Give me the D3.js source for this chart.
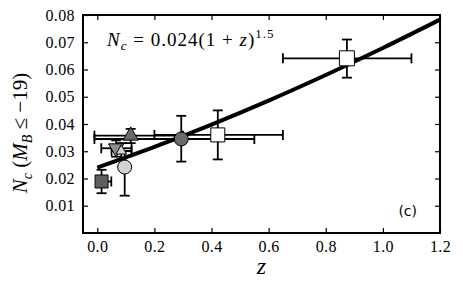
<!DOCTYPE html>
<html>
<head>
<meta charset="utf-8">
<script src="https://cdn.jsdelivr.net/npm/d3@7"></script>
<style>
  body { margin: 0; background: #fff; }
  svg { display: block; }
</style>
</head>
<body>
<svg id="chart" width="463" height="293"></svg>
<script>
const SERIF = "'Liberation Serif', 'DejaVu Serif', serif";

// measurements (z, N_c) with error ranges
let zs    = [0.015, 0.096, 0.066, 0.084, 0.117, 0.294, 0.422, 0.874];
let ncs   = [0.0189, 0.0242, 0.0311, 0.0301, 0.0357, 0.0345, 0.036, 0.0641];
let zLo   = [0.0, 0.096, 0.014, 0.05, -0.01, -0.01, 0.2, 0.65];
let zHi   = [0.049, 0.096, 0.12, 0.12, 0.3, 0.55, 0.65, 1.1];
let ncLo  = [0.0146, 0.0137, 0.028, 0.027, 0.033, 0.0262, 0.027, 0.057];
let ncHi  = [0.0232, 0.030, 0.034, 0.033, 0.0382, 0.043, 0.045, 0.071];
let shapes = ["square", "circle", "down", "up", "up", "circle", "square", "square"];
let fills  = ["#5e5e5e", "#d3d3d3", "#8c8c8c", "#d3d3d3", "#6a6a6a", "#6a6a6a", "#ffffff", "#ffffff"];
let sizes  = [13, 14, 13, 9, 13, 14, 14, 15];

// fit N_c = 0.024(1+z)^1.5
let fitZ = [0.0, 0.2, 0.4, 0.6, 0.8, 1.0, 1.2];
let fitN = [0.024, 0.0316, 0.0398, 0.0486, 0.058, 0.0679, 0.0783];

let xTicks = [0.0, 0.2, 0.4, 0.6, 0.8, 1.0, 1.2];
let yTicks = [0.01, 0.02, 0.03, 0.04, 0.05, 0.06, 0.07, 0.08];

let svg = d3.select("#chart"),
    margin = { top: 15, right: 23, bottom: 60, left: 83 },
    width = +svg.attr("width") - margin.left - margin.right,
    height = +svg.attr("height") - margin.top - margin.bottom,
    g = svg.append("g").attr("transform", "translate(" + margin.left + "," + margin.top + ")");

let x = d3.scaleLinear().domain([-0.05, 1.2]).range([0, width]);
let y = d3.scaleLinear().domain([0, 0.08]).range([height, 0]);

// axes with inward ticks on all four sides
g.append("g")
    .attr("transform", "translate(0," + height + ")")
    .call(d3.axisBottom(x).tickValues(xTicks).tickFormat(d3.format(".1f")).tickSizeInner(-5).tickSizeOuter(0).tickPadding(8));
g.append("g")
    .call(d3.axisTop(x).tickValues(xTicks).tickFormat("").tickSizeInner(-5).tickSizeOuter(0));
g.append("g")
    .call(d3.axisLeft(y).tickValues(yTicks).tickFormat(d3.format(".2f")).tickSizeInner(-5).tickSizeOuter(0).tickPadding(8));
g.append("g")
    .attr("transform", "translate(" + width + ",0)")
    .call(d3.axisRight(y).tickValues(yTicks).tickFormat("").tickSizeInner(-5).tickSizeOuter(0));
g.selectAll(".domain").remove();
g.selectAll(".tick line").attr("stroke", "#000").attr("stroke-width", 1.2);
g.selectAll(".tick text")
    .attr("font-family", SERIF)
    .attr("font-size", 16)
    .attr("letter-spacing", 0.4)
    .attr("fill", "#000");

// fit line
let line = d3.line().x(function(d, i) { return x(fitZ[i]); }).y(function(d) { return y(d); }).curve(d3.curveMonotoneX);
g.append("path")
    .datum(fitN)
    .attr("d", line)
    .attr("fill", "none")
    .attr("stroke", "#000")
    .attr("stroke-width", 4);

let idx = d3.range(zs.length);

// error bars
let eb = g.append("g").attr("stroke", "#000").attr("stroke-width", 1.8);
idx.forEach(function(i) {
  let cx = x(zs[i]), cy = y(ncs[i]);
  eb.append("line").attr("x1", cx).attr("x2", cx).attr("y1", y(ncLo[i])).attr("y2", y(ncHi[i]));
  [ncLo[i], ncHi[i]].forEach(function(v) {
    eb.append("line").attr("x1", cx - 5).attr("x2", cx + 5).attr("y1", y(v)).attr("y2", y(v));
  });
  if (zHi[i] > zLo[i]) {
    eb.append("line").attr("x1", x(zLo[i])).attr("x2", x(zHi[i])).attr("y1", cy).attr("y2", cy);
    [zLo[i], zHi[i]].forEach(function(v) {
      eb.append("line").attr("x1", x(v)).attr("x2", x(v)).attr("y1", cy - 5).attr("y2", cy + 5);
    });
  }
});

// markers
let sym = { square: d3.symbolSquare, circle: d3.symbolCircle, up: d3.symbolTriangle };
g.append("g")
  .selectAll("path")
  .data(idx)
  .enter().append("path")
    .attr("transform", function(i) {
      let t = "translate(" + x(zs[i]) + "," + y(ncs[i]) + ")";
      return shapes[i] === "down" ? t + " rotate(180)" : t;
    })
    .attr("d", function(i) {
      let s = shapes[i] === "down" ? sym.up : sym[shapes[i]];
      let area = shapes[i] === "circle" ? Math.PI * Math.pow(sizes[i] / 2, 2)
               : shapes[i] === "square" ? sizes[i] * sizes[i]
               : sizes[i] * sizes[i] * 0.6;
      return d3.symbol().type(s).size(area)();
    })
    .attr("fill", function(i) { return fills[i]; })
    .attr("stroke", "#000")
    .attr("stroke-width", 1);

// frame
g.append("rect")
    .attr("width", width)
    .attr("height", height)
    .attr("fill", "none")
    .attr("stroke", "#000")
    .attr("stroke-width", 2);

// formula
let f = g.append("text")
    .attr("font-family", SERIF)
    .attr("x", 24)
    .attr("y", 31)
    .attr("font-size", 19)
    .attr("letter-spacing", 1);
f.append("tspan").attr("font-style", "italic").text("N");
f.append("tspan").attr("font-style", "italic").attr("font-size", 13).attr("dy", 4).text("c");
f.append("tspan").attr("dy", -4).text(" = 0.024(1 + ");
f.append("tspan").attr("font-style", "italic").text("z");
f.append("tspan").text(")");
f.append("tspan").attr("font-size", 13).attr("dy", -8).text("1.5");

// panel tag
g.append("text")
    .attr("x", width - 23)
    .attr("y", height - 17)
    .attr("text-anchor", "end")
    .attr("font-family", "'DejaVu Sans', sans-serif")
    .attr("font-size", 14)
    .text("(c)");

// axis labels
svg.append("text")
    .attr("font-family", SERIF)
    .attr("x", margin.left + width / 2)
    .attr("y", 274)
    .attr("text-anchor", "middle")
    .attr("font-style", "italic")
    .attr("font-size", 24)
    .text("z");

let yl = svg.append("text")
    .attr("font-family", SERIF)
    .attr("transform", "translate(27," + (margin.top + 118) + ") rotate(-90)")
    .attr("text-anchor", "middle")
    .attr("font-size", 21);
yl.append("tspan").attr("font-style", "italic").text("N");
yl.append("tspan").attr("font-style", "italic").attr("font-size", 14).attr("dy", 5).text("c");
yl.append("tspan").attr("dy", -5).text(" (");
yl.append("tspan").attr("font-style", "italic").text("M");
yl.append("tspan").attr("font-style", "italic").attr("font-size", 14).attr("dy", 5).text("B");
yl.append("tspan").attr("dy", -5).text(" \u2264 \u221219)");
</script>
</body>
</html>
